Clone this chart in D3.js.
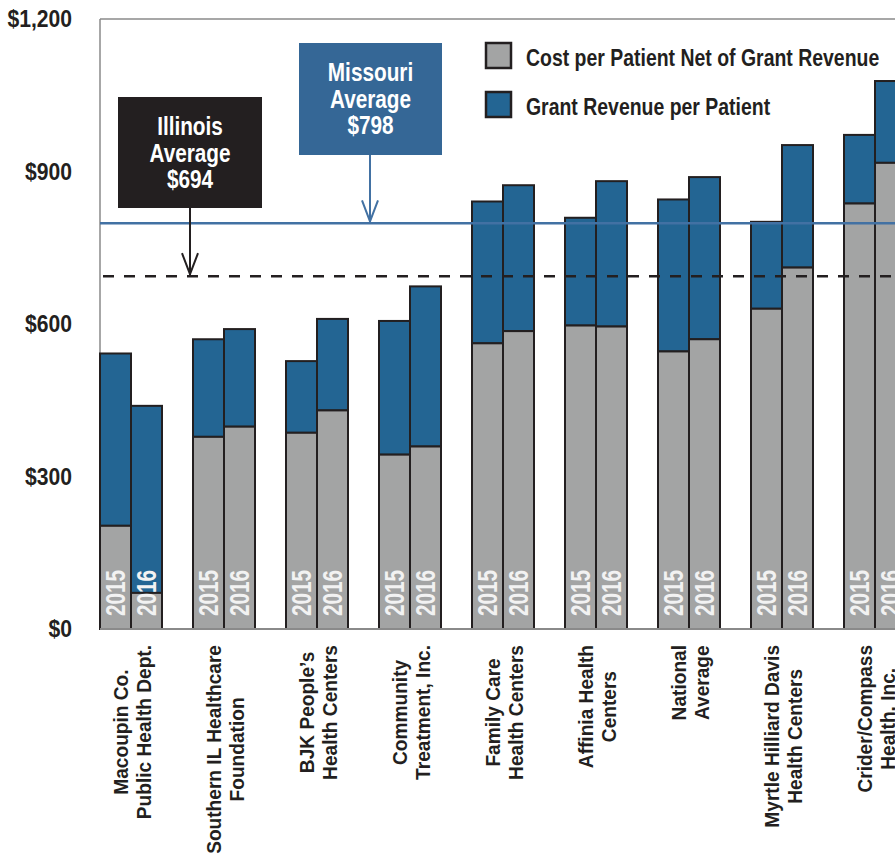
<!DOCTYPE html>
<html>
<head>
<meta charset="utf-8">
<script src="https://cdn.jsdelivr.net/npm/d3@7"></script>
<style>
  html, body { margin: 0; padding: 0; background: #fff; }
  svg { display: block; }
  text { font-family: "Liberation Sans", Arial, Helvetica, sans-serif; font-weight: bold; }
</style>
</head>
<body>
<svg id="chart" width="895" height="855"></svg>
<script>
// ---- data ----
const categories = [
  ["Macoupin Co.", "Public Health Dept."],
  ["Southern IL Healthcare", "Foundation"],
  ["BJK People\u2019s", "Health Centers"],
  ["Community", "Treatment, Inc."],
  ["Family Care", "Health Centers"],
  ["Affinia Health", "Centers"],
  ["National", "Average"],
  ["Myrtle Hilliard Davis", "Health Centers"],
  ["Crider/Compass", "Health, Inc."]
];
const years = ["2015", "2016"];
const cost2015  = [203, 378, 386, 343, 562, 597, 546, 630, 837];
const grant2015 = [339, 192, 141, 263, 279, 212, 299, 171, 135];
const cost2016  = [71, 398, 430, 359, 586, 595, 570, 711, 917];
const grant2016 = [368, 192, 180, 315, 287, 286, 319, 241, 161];
const yTicks = [0, 300, 600, 900, 1200];
const illinoisAvg = 694;
const missouriAvg = 798;
const seriesNames = ["Cost per Patient Net of Grant Revenue", "Grant Revenue per Patient"];

// ---- styles ----
const GRAY = "#a3a4a4", BLUE = "#236593", DARK = "#231f20";
const MO_BOX = "#356796", MO_LINE = "#4271a3";

// condensed look: squeeze text horizontally
function condense(sel, f) {
  sel.each(function() {
    const L = this.getComputedTextLength();
    d3.select(this).attr("textLength", L * f).attr("lengthAdjust", "spacingAndGlyphs");
  });
  return sel;
}

const svg = d3.select("#chart");
const plotLeft = 100, plotTop = 19, plotBottom = 629;

const y = d3.scaleLinear().domain([0, 1200]).range([plotBottom, plotTop]);
const x0 = d3.scaleBand().domain(d3.range(categories.length))
  .range([plotLeft, plotLeft + 806]).paddingInner(1/3).paddingOuter(0);
const x1 = d3.scaleBand().domain(years).range([0, x0.bandwidth()]);

// frame
svg.append("line").attr("x1", plotLeft).attr("x2", 895).attr("y1", plotTop).attr("y2", plotTop)
  .attr("stroke", "#8a8a8a").attr("stroke-width", 1.5);
svg.append("line").attr("x1", plotLeft).attr("x2", plotLeft).attr("y1", plotTop).attr("y2", plotBottom)
  .attr("stroke", "#8a8a8a").attr("stroke-width", 1.5);

// y axis
const yAxis = svg.append("g").attr("transform", `translate(${plotLeft},0)`)
  .call(d3.axisLeft(y).tickValues(yTicks).tickSize(0).tickPadding(28)
    .tickFormat(d => "$" + d3.format(",")(d)));
yAxis.select(".domain").remove();
const yLab = yAxis.selectAll("text").attr("font-size", 24).attr("fill", DARK)
  .style("font-family", '"Liberation Sans", Arial, sans-serif')
  .style("font-weight", "bold");
condense(yLab, 0.88);

// bars
const rows = [];
categories.forEach((c, i) => {
  rows.push({i, year: "2015", cost: cost2015[i], grant: grant2015[i]});
  rows.push({i, year: "2016", cost: cost2016[i], grant: grant2016[i]});
});
const bars = svg.append("g");
rows.forEach(r => {
  const bx = x0(r.i) + x1(r.year), bw = x1.bandwidth();
  bars.append("rect").attr("x", bx).attr("width", bw)
    .attr("y", y(r.cost + r.grant)).attr("height", y(r.cost) - y(r.cost + r.grant))
    .attr("fill", BLUE).attr("stroke", DARK).attr("stroke-width", 2);
  bars.append("rect").attr("x", bx).attr("width", bw)
    .attr("y", y(r.cost)).attr("height", y(0) - y(r.cost))
    .attr("fill", GRAY).attr("stroke", DARK).attr("stroke-width", 2);
  bars.append("text")
    .attr("transform", `translate(${bx + bw/2 + 9.5},${y(0) - 13}) rotate(-90)`)
    .attr("font-size", 28).attr("fill", "#f2f2f2")
    .attr("textLength", 46).attr("lengthAdjust", "spacingAndGlyphs").text(r.year);
});

// x axis baseline
svg.append("line").attr("x1", plotLeft).attr("x2", 895).attr("y1", plotBottom).attr("y2", plotBottom)
  .attr("stroke", "#8a8a8a").attr("stroke-width", 2);

// category labels
const labG = svg.append("g");
categories.forEach((lines, i) => {
  const cx = x0(i) + x0.bandwidth()/2;
  const g = labG.append("g");
  const ts = lines.map((t, k) => g.append("text").attr("font-size", 21).attr("fill", DARK)
    .attr("text-anchor", "middle").text(t));
  ts.forEach(t => condense(t, 0.91));
  const maxLen = d3.max(ts, t => +t.attr("textLength"));
  ts.forEach((t, k) => {
    const lx = cx + (k - (lines.length - 1)/2) * 23 + 8;
    t.attr("transform", `translate(${lx},${645 + maxLen/2}) rotate(-90)`);
  });
});

// reference lines
svg.append("line").attr("x1", plotLeft).attr("x2", 895)
  .attr("y1", y(illinoisAvg)).attr("y2", y(illinoisAvg))
  .attr("stroke", DARK).attr("stroke-width", 2.5).attr("stroke-dasharray", "11,10")
  .attr("stroke-dashoffset", -3);
svg.append("line").attr("x1", plotLeft).attr("x2", 895)
  .attr("y1", y(missouriAvg)).attr("y2", y(missouriAvg))
  .attr("stroke", MO_LINE).attr("stroke-width", 2.5);

// annotation boxes
function callout(bx, by, bw, bh, fill, lineColor, lines, arrowX, tipY) {
  svg.append("rect").attr("x", bx).attr("y", by).attr("width", bw).attr("height", bh).attr("fill", fill);
  lines.forEach((t, k) => {
    const tx = svg.append("text").attr("x", bx + bw/2).attr("y", by + 38 + k * 26.5)
      .attr("text-anchor", "middle").attr("font-size", 25).attr("fill", "#fff").text(t);
    condense(tx, 0.83);
  });
  svg.append("line").attr("x1", arrowX).attr("x2", arrowX).attr("y1", by + bh).attr("y2", tipY)
    .attr("stroke", lineColor).attr("stroke-width", 2);
  svg.append("path").attr("d", `M${arrowX - 8},${tipY - 22} L${arrowX},${tipY - 1} L${arrowX + 8},${tipY - 22}`)
    .attr("fill", "none").attr("stroke", lineColor).attr("stroke-width", 2);
}
callout(118, 97, 144, 111, DARK, DARK, ["Illinois", "Average", "$" + illinoisAvg], 190, y(illinoisAvg) - 1);
callout(299, 43, 143, 112, MO_BOX, MO_LINE, ["Missouri", "Average", "$" + missouriAvg], 370, y(missouriAvg) - 1);

// legend
const legend = svg.append("g");
[GRAY, BLUE].forEach((c, k) => {
  legend.append("rect").attr("x", 486).attr("y", 43 + k * 49).attr("width", 25).attr("height", 25)
    .attr("fill", c).attr("stroke", DARK).attr("stroke-width", 2.5);
  const lt = legend.append("text").attr("x", 526).attr("y", 66 + k * 49).attr("font-size", 24)
    .attr("fill", DARK).text(seriesNames[k]);
  condense(lt, 0.81);
});
</script>
</body>
</html>
